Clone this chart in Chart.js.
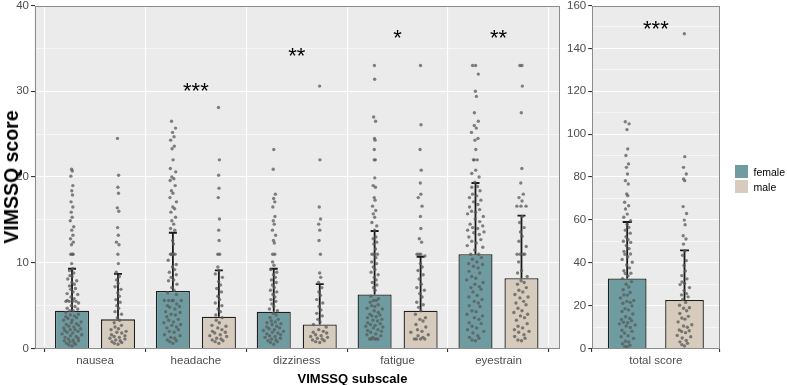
<!DOCTYPE html>
<html>
<head>
<meta charset="utf-8">
<script src="https://cdn.jsdelivr.net/npm/chart.js@4.4.1/dist/chart.umd.min.js"></script>
<style>
  body { margin: 0; background: #fff; font-family: "Liberation Sans", Arial, sans-serif; }
  #wrap { position: relative; width: 787px; height: 385px; overflow: hidden; }
  canvas { position: absolute; top: 0; }
  #left { left: 0; }
  #right { left: 560px; }
  .ytitle { position: absolute; left: 11px; top: 176.5px; transform: translate(-50%, -50%) rotate(-90deg);
            font-weight: bold; font-size: 19.5px; line-height: 20px; white-space: nowrap; color: #000; }
  .xtitle { position: absolute; left: 352.5px; top: 371.5px; transform: translateX(-50%);
            font-weight: bold; font-size: 13px; line-height: 13px; white-space: nowrap; color: #000; }
  .key { position: absolute; left: 735px; width: 13.3px; height: 13.3px; }
  .keytxt { position: absolute; left: 753.5px; font-size: 10.5px; line-height: 12px; color: #000; }
</style>
</head>
<body>
<div id="wrap">
  <canvas id="left" width="575" height="385"></canvas>
  <canvas id="right" width="227" height="385"></canvas>
  <div class="ytitle">VIMSSQ score</div>
  <div class="xtitle">VIMSSQ subscale</div>
  <div class="key" style="top:165px;background:rgb(110,156,160)"></div>
  <div class="key" style="top:179.8px;background:rgb(214,203,189)"></div>
  <div class="keytxt" style="top:165.5px">female</div>
  <div class="keytxt" style="top:180.5px">male</div>
</div>
<script>
// subscales panel
const subscales = ['nausea', 'headache', 'dizziness', 'fatigue', 'eyestrain'];
const femaleMean = [4.4, 6.7, 4.3, 6.3, 11.0];
const maleMean = [3.4, 3.7, 2.8, 4.4, 8.2];
const femaleSD = [4.9, 6.8, 5.0, 7.4, 8.3];
const maleSD = [5.3, 5.4, 4.7, 6.3, 7.3];
const signif = ['', '***', '**', '*', '**'];
const signifAt = [null, 30.7, 34.7, 36.8, 36.8];

// total panel
const totalLabel = ['total score'];
const totalFemaleMean = [32.7];
const totalMaleMean = [22.6];
const totalFemaleSD = [26.3];
const totalMaleSD = [23.2];
const totalSignif = ['***'];
const totalSignifAt = [151.7];

// individual scores
const nauseaFemale = [20.9, 20.7, 20.1, 19.0, 18.4, 17.9, 17.1, 16.5, 15.9, 15.3, 14.9, 14.2, 13.8, 13.2, 12.8, 12.4, 12.1, 11.0, 11.0, 11.0, 9.9,
  9.3, 9.1, 8.8, 8.5, 8.4, 8.1, 7.9, 7.7, 7.5, 7.3, 7.0, 6.9, 6.6, 6.4, 6.3, 6.0, 5.8, 5.6, 5.5, 5.5, 5.5, 5.5, 5.3, 5.0, 4.9, 4.7, 4.4, 4.4,
  4.2, 4.0, 3.9, 3.7, 3.5, 3.3, 3.3, 3.1, 2.9, 2.8, 2.6, 2.5, 2.3, 2.2, 2.2, 2.0, 1.9, 1.7, 1.6, 1.4, 1.3, 1.1, 1.0, 0.9, 0.8, 0.6, 0.5,
  0.4, 0.3, 2.7, 3.6, 1.8, 1.2, 0.7, 2.4, 3.0, 1.5, 0.9, 4.6, 3.8, 2.1];
const nauseaMale = [24.5, 20.2, 18.8, 18.1, 16.4, 16.0, 14.1, 13.2, 12.4, 12.1, 11.0, 9.9, 8.9, 8.4, 8.0, 7.6, 7.2, 6.9, 6.5, 6.1, 5.7,
  5.4, 5.0, 4.7, 4.3, 4.0, 3.6, 3.3, 3.0, 2.7, 2.5, 2.2, 2.0, 1.8, 1.6, 1.5, 1.3, 1.2, 1.0, 0.9, 0.8, 0.6, 0.5, 1.9, 1.1, 0.7, 2.3, 1.4];
const headacheFemale = [26.5, 25.7, 25.2, 24.7, 24.3, 23.6, 23.3, 22.0, 21.0, 20.6, 20.0, 19.8, 19.6, 19.0, 18.4, 18.1, 17.6, 17.1, 16.5,
  16.3, 15.9, 15.3, 14.9, 14.5, 14.0, 13.8, 12.6, 12.2, 11.0, 11.0, 11.0, 11.0, 10.3, 9.8, 9.5, 9.2, 8.9, 8.6, 8.3, 8.0, 7.9, 7.5, 7.1,
  6.8, 6.5, 6.3, 5.6, 5.6, 5.6, 5.6, 5.6, 5.2, 4.9, 4.6, 4.3, 4.0, 3.7, 3.4, 3.1, 2.8, 2.5, 2.2, 1.9, 1.6, 1.3, 1.0, 0.8, 0.6, 4.8, 3.9,
  3.0, 2.0, 1.2, 4.2, 3.3, 2.4, 1.5, 0.9, 5.0, 2.7];
const headacheMale = [28.1, 22.0, 20.2, 18.7, 17.6, 15.1, 13.8, 12.6, 11.0, 11.0, 9.5, 9.1, 8.7, 8.3, 7.8, 7.4, 7.0, 6.6, 6.1, 5.7, 5.3,
  5.0, 4.6, 4.3, 3.9, 3.6, 3.3, 3.0, 2.7, 2.4, 2.2, 2.0, 1.8, 1.6, 1.4, 1.2, 1.0, 0.8, 0.6, 1.9, 2.6, 1.1, 0.9, 1.5];
const dizzinessFemale = [23.2, 20.9, 18.0, 17.5, 17.1, 16.5, 15.4, 14.9, 14.5, 13.8, 13.2, 12.6, 12.3, 11.0, 11.0, 10.1, 9.7, 9.2, 8.9,
  8.6, 8.3, 8.0, 7.7, 7.4, 7.1, 6.8, 6.6, 6.3, 6.0, 5.7, 5.5, 5.2, 4.9, 4.6, 4.4, 4.1, 3.9, 3.6, 3.4, 3.2, 3.0, 2.8, 2.6, 2.4, 2.2, 2.0,
  1.9, 1.7, 1.5, 1.4, 1.2, 1.0, 0.9, 0.7, 0.5, 2.5, 1.8, 1.1, 3.1, 2.3, 1.6, 0.8, 2.9, 2.1, 1.3];
const dizzinessMale = [30.6, 22.0, 16.5, 15.1, 14.5, 13.8, 12.6, 11.0, 8.8, 8.3, 7.7, 7.1, 6.6, 6.2, 5.7, 5.3, 4.9, 4.5, 4.1, 3.8, 3.4,
  3.1, 2.8, 2.5, 2.2, 2.0, 1.8, 1.6, 1.4, 1.2, 1.0, 0.9, 0.7, 1.5, 1.1, 1.9, 0.8, 1.3];
const fatigueFemale = [33.0, 31.4, 27.0, 26.5, 24.5, 24.3, 23.2, 22.0, 22.0, 19.9, 19.0, 18.8, 17.6, 17.3, 16.6, 16.1, 15.7, 15.3, 14.7,
  14.3, 13.8, 13.0, 12.8, 12.4, 12.2, 11.6, 11.0, 11.0, 11.0, 10.6, 10.1, 9.9, 9.5, 9.2, 8.9, 8.6, 8.3, 8.0, 7.7, 7.4, 7.1, 6.8, 6.1,
  5.8, 5.6, 5.6, 5.4, 5.1, 4.9, 4.6, 4.4, 4.2, 4.0, 3.8, 3.6, 3.4, 3.2, 3.0, 2.8, 2.6, 2.4, 2.2, 2.1, 1.9, 1.7, 1.5, 1.3, 1.1, 1.1, 1.1,
  1.1, 1.1, 3.9, 2.9, 2.0, 4.7, 3.3, 2.5, 1.6, 5.0, 3.7, 2.7];
const fatigueMale = [33.0, 26.1, 23.2, 20.8, 19.3, 18.0, 17.6, 16.6, 15.4, 14.0, 12.8, 12.4, 11.0, 11.0, 11.0, 10.8, 9.9, 9.5, 9.1, 8.6,
  8.1, 7.5, 7.1, 6.8, 6.4, 6.0, 5.4, 5.1, 4.8, 4.4, 4.0, 3.6, 3.4, 3.2, 2.8, 2.5, 2.2, 2.0, 1.9, 1.6, 1.5, 1.3, 1.1, 1.1, 1.1, 1.1];
const eyestrainFemale = [33.0, 33.0, 32.0, 30.0, 29.4, 27.5, 26.5, 26.0, 25.7, 25.2, 24.5, 24.3, 23.2, 22.0, 22.0, 22.0, 20.8, 20.4,
  20.0, 19.4, 18.9, 18.8, 18.4, 18.0, 17.8, 17.6, 17.3, 17.1, 16.8, 16.5, 16.2, 16.0, 15.9, 15.7, 15.4, 15.1, 14.8, 14.5, 14.3, 14.1,
  14.0, 13.8, 13.6, 13.5, 13.3, 13.0, 12.7, 12.5, 12.3, 12.0, 11.8, 11.5, 11.0, 11.0, 10.6, 10.4, 10.1, 9.9, 9.6, 9.4, 9.0, 8.8, 8.4,
  8.2, 8.0, 7.7, 7.2, 7.1, 6.9, 6.6, 6.2, 6.0, 5.7, 5.5, 5.0, 4.9, 4.4, 4.3, 4.0, 3.6, 3.4, 3.0, 2.9, 2.6, 2.2, 2.0, 1.8, 1.5, 1.2, 1.0,
  0.9, 9.8, 7.5, 5.3, 3.8, 2.4, 1.3];
const eyestrainMale = [33.0, 33.0, 30.6, 27.5, 21.0, 19.3, 18.0, 17.6, 17.2, 16.6, 16.6, 16.6, 15.4, 14.7, 14.1, 13.6, 13.1, 12.5, 11.9,
  11.0, 11.0, 11.0, 11.0, 10.1, 9.1, 8.8, 8.4, 7.9, 7.7, 7.5, 7.1, 6.8, 6.6, 6.3, 6.0, 5.9, 5.5, 5.3, 5.1, 4.7, 4.4, 4.2, 4.0, 3.8, 3.6,
  3.3, 2.9, 2.6, 2.4, 2.2, 2.0, 1.9, 1.6, 1.4, 1.2, 1.0, 0.9];
const totalFemale = [105.8, 104.8, 102.1, 93.1, 90.0, 86.1, 84.5, 81.4, 78.3, 76.7, 72.1, 71.3, 68.2, 66.6, 65.1, 62.7, 61.2, 59.6, 58.0,
  56.5, 55.2, 53.8, 52.1, 50.7, 50.0, 49.5, 48.0, 46.6, 45.3, 44.1, 44.0, 42.8, 41.5, 40.2, 39.0, 37.6, 36.3, 35.1, 35.0, 33.9, 32.6,
  31.2, 30.0, 28.7, 27.4, 26.1, 25.0, 24.9, 23.6, 22.4, 22.0, 21.5, 21.1, 19.9, 18.6, 18.0, 17.3, 16.1, 14.8, 14.0, 13.5, 13.0, 12.3,
  12.0, 11.5, 11.0, 10.5, 9.8, 8.5, 8.0, 7.2, 6.0, 5.5, 4.7, 3.4, 3.0, 2.2, 1.5, 1.0, 0.8];
const totalMale = [146.8, 89.5, 84.5, 81.4, 79.1, 78.3, 66.2, 63.0, 59.9, 57.7, 52.6, 51.1, 48.7, 45.6, 43.5, 41.0, 38.7, 36.2, 34.0,
  32.5, 31.0, 30.3, 29.8, 28.4, 27.0, 25.6, 25.0, 24.1, 22.9, 21.5, 20.2, 19.0, 18.8, 17.6, 16.3, 15.0, 14.2, 13.7, 12.4, 11.1, 10.5,
  9.9, 8.6, 8.3, 7.9, 7.4, 6.1, 5.5, 4.9, 3.7, 3.1, 2.4, 1.8, 1.2];

const femaleScores = [nauseaFemale, headacheFemale, dizzinessFemale, fatigueFemale, eyestrainFemale];
const maleScores = [nauseaMale, headacheMale, dizzinessMale, fatigueMale, eyestrainMale];

const FEMALE = 'rgb(110,156,160)';
const MALE = 'rgb(214,203,189)';
const GREY30 = '#4d4d4d';
Chart.defaults.font.family = '"Liberation Sans", Arial, sans-serif';

// van der Corput, for a quasirandom spread of the dots
function vdc(n) {
  let v = 0, d = 1;
  while (n > 0) { d *= 2; v += (n % 2) / d; n = Math.floor(n / 2); }
  return v;
}
function swarm(values, center, half, bw) {
  const dens = values.map(v => values.filter(w => Math.abs(w - v) <= bw).length);
  const maxD = Math.max(...dens);
  const order = values.map((v, i) => i).sort((a, b) => values[a] - values[b]);
  return order.map((idx, k) => ({
    x: center + (2 * vdc(k + 1) - 1) * half * dens[idx] / maxD,
    y: values[idx]
  }));
}

function panelPlugin(cfg) {
  return {
    id: 'panel',
    beforeDraw(chart) {
      const a = chart.chartArea, ctx = chart.ctx;
      ctx.save();
      ctx.fillStyle = '#ebebeb';
      ctx.fillRect(a.left, a.top, a.right - a.left, a.bottom - a.top);
      ctx.restore();
    },
    afterDatasetDraw(chart, args) {
      if (args.index !== 0) return;
      const x = chart.scales.x, y = chart.scales.y, ctx = chart.ctx;
      ctx.save();
      ctx.strokeStyle = '#1a1a1a';
      ctx.lineWidth = 1.8;
      const bars = [[cfg.fMean, cfg.fSD, -cfg.dodge], [cfg.mMean, cfg.mSD, cfg.dodge]];
      bars.forEach(([mean, sd, off]) => {
        mean.forEach((m, i) => {
          const px = x.getPixelForValue(i + off);
          const y0 = y.getPixelForValue(m), y1 = y.getPixelForValue(m + sd[i]);
          ctx.beginPath();
          ctx.moveTo(px, y0); ctx.lineTo(px, y1);
          ctx.moveTo(px - cfg.cap, y1); ctx.lineTo(px + cfg.cap, y1);
          ctx.stroke();
        });
      });
      ctx.restore();
    },
    afterDraw(chart) {
      const a = chart.chartArea, ctx = chart.ctx;
      const x = chart.scales.x, y = chart.scales.y;
      ctx.save();
      ctx.strokeStyle = '#8c8c8c';
      ctx.lineWidth = 1;
      ctx.strokeRect(Math.round(a.left) + 0.5, Math.round(a.top) + 0.5, Math.round(a.right - a.left) - 1, Math.round(a.bottom - a.top) - 1);
      ctx.fillStyle = '#000';
      ctx.font = '22px "Liberation Sans", Arial, sans-serif';
      ctx.textAlign = 'center';
      ctx.textBaseline = 'alphabetic';
      cfg.signif.forEach((s, i) => {
        if (!s) return;
        ctx.fillText(s, x.getPixelForValue(i), y.getPixelForValue(cfg.signifAt[i]) + 0.57 * 22);
      });
      ctx.restore();
    }
  };
}

function makePanel(id, cfg) {
  const d = cfg.dodge;
  const datasets = [
    { type: 'bar', label: 'female', data: cfg.fMean.map((m, i) => ({ x: i - d, y: m })), backgroundColor: FEMALE,
      borderColor: '#1e1e1e', borderWidth: 1.3, grouped: false, categoryPercentage: 1, barPercentage: cfg.barPct, order: 2 },
    { type: 'bar', label: 'male', data: cfg.mMean.map((m, i) => ({ x: i + d, y: m })), backgroundColor: MALE,
      borderColor: '#1e1e1e', borderWidth: 1.3, grouped: false, categoryPercentage: 1, barPercentage: cfg.barPct, order: 2 },
    { type: 'scatter', label: 'female scores', data: cfg.fScores.flatMap((v, i) => swarm(v, i - d, cfg.spread, cfg.bw)),
      pointRadius: 1.7, pointBackgroundColor: 'rgba(90,90,90,0.75)', pointBorderWidth: 0, order: 1 },
    { type: 'scatter', label: 'male scores', data: cfg.mScores.flatMap((v, i) => swarm(v, i + d, cfg.spread, cfg.bw)),
      pointRadius: 1.7, pointBackgroundColor: 'rgba(90,90,90,0.75)', pointBorderWidth: 0, order: 1 }
  ];
  const n = cfg.labels.length;
  new Chart(document.getElementById(id), {
    type: 'bar',
    data: { datasets },
    options: {
      responsive: false,
      animation: false,
      events: [],
      layout: { padding: { top: 5.5, right: cfg.padRight, bottom: 0, left: 0 } },
      plugins: { legend: { display: false }, tooltip: { enabled: false } },
      scales: {
        x: {
          type: 'linear', min: -0.6, max: n - 0.4, offset: false,
          ticks: { stepSize: 1, includeBounds: false, autoSkip: false, maxRotation: 0, padding: 2,
                   color: GREY30, font: { size: 11.5 }, callback: v => cfg.labels[v] ?? '' },
          grid: { color: '#fff', lineWidth: 1.1, tickColor: '#333', tickLength: 3.5 },
          border: { display: false },
          afterFit(s) { s.height = 36.5; s.paddingLeft = 0; s.paddingRight = 0; }
        },
        y: {
          min: 0, max: cfg.yMax,
          ticks: { stepSize: cfg.minorStep, padding: 2, color: GREY30, font: { size: 11.5 },
                   callback: v => (v % cfg.majorStep === 0 ? String(v) : '') },
          grid: {
            color: '#fff',
            lineWidth: c => (c.tick && c.tick.value % cfg.majorStep === 0 ? 1.1 : 0.55),
            tickColor: c => (c.tick && c.tick.value % cfg.majorStep === 0 ? '#333' : 'rgba(0,0,0,0)'),
            tickLength: 3.5
          },
          border: { display: false },
          afterFit(s) { s.width = cfg.yWidth; s.paddingTop = 0; s.paddingBottom = 0; }
        }
      }
    },
    plugins: [panelPlugin(cfg)]
  });
}

makePanel('left', {
  labels: subscales, fMean: femaleMean, mMean: maleMean, fSD: femaleSD, mSD: maleSD,
  fScores: femaleScores, mScores: maleScores, signif: signif, signifAt: signifAt,
  dodge: 0.228, barPct: 0.74, spread: 0.11, bw: 1, cap: 4, yMax: 40, minorStep: 5, majorStep: 10,
  yWidth: 34.5, padRight: 16
});

makePanel('right', {
  labels: totalLabel, fMean: totalFemaleMean, mMean: totalMaleMean, fSD: totalFemaleSD, mSD: totalMaleSD,
  fScores: [totalFemale], mScores: [totalMale], signif: totalSignif, signifAt: totalSignifAt,
  dodge: 0.268, barPct: 0.675, spread: 0.085, bw: 4, cap: 4.5, yMax: 160, minorStep: 10, majorStep: 20,
  yWidth: 31.7, padRight: 67
});
</script>
</body>
</html>
